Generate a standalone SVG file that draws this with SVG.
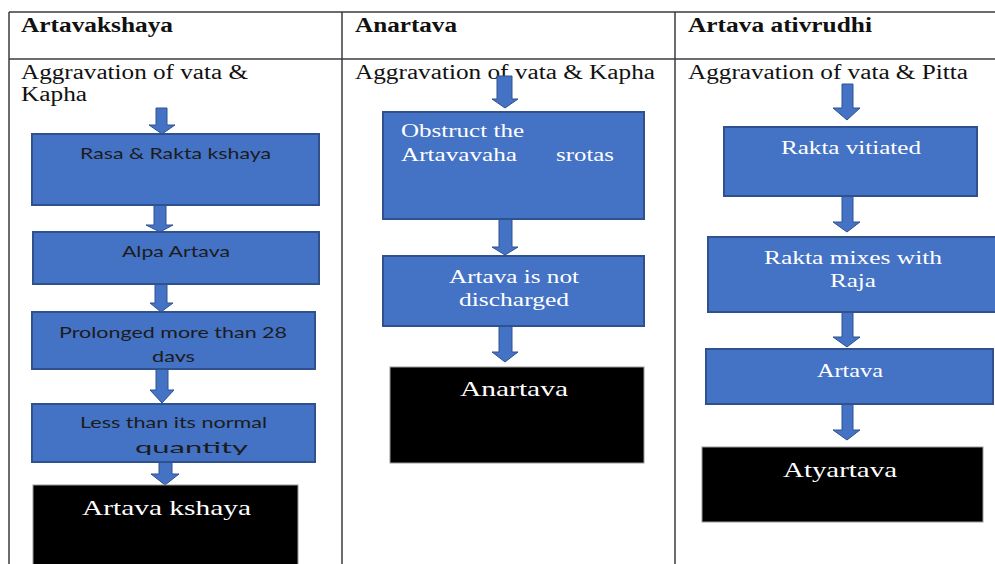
<svg xmlns="http://www.w3.org/2000/svg" width="995" height="564" viewBox="0 0 995 564">
<style>
.grid{stroke:#3a3a40;stroke-width:1.5;fill:none}
.hd{font-family:"Liberation Serif","Times New Roman",serif;font-weight:bold;font-size:20px;fill:#111}
.ag{font-family:"Liberation Serif","Times New Roman",serif;font-size:20px;fill:#111}
.bx{fill:#4472C4;stroke:#2F528F;stroke-width:2}
.bk{fill:#000;stroke:#999;stroke-width:1}
.ts{font-family:Lato,"Open Sans",sans-serif;font-size:16px;fill:#1c1c1c}
.tw{font-family:"Liberation Serif","Times New Roman",serif;font-size:18px;fill:#fff}
.tb{font-family:"Liberation Serif","Times New Roman",serif;font-size:22px;fill:#fff}
.ar{fill:#4472C4;stroke:#2F528F;stroke-width:1}
</style>
<defs>
<clipPath id="c3"><rect x="32" y="312" width="283" height="50"/></clipPath>
<clipPath id="c4"><rect x="32" y="404" width="283" height="51"/></clipPath>
</defs>
<rect width="995" height="564" fill="#fff"/>
<g id="table">
<line class="grid" x1="9" y1="12" x2="995" y2="12"/>
<line class="grid" x1="9" y1="59" x2="995" y2="59"/>
<line class="grid" x1="9" y1="12" x2="9" y2="564"/>
<line class="grid" x1="342" y1="12" x2="342" y2="564"/>
<line class="grid" x1="675" y1="12" x2="675" y2="564"/>
<text class="hd" x="21" y="32" textLength="152" lengthAdjust="spacingAndGlyphs">Artavakshaya</text>
<text class="hd" x="355" y="32" textLength="102" lengthAdjust="spacingAndGlyphs">Anartava</text>
<text class="hd" x="688" y="32" textLength="184" lengthAdjust="spacingAndGlyphs">Artava ativrudhi</text>
</g>
<g id="start1">
<text class="ag" x="21" y="79" textLength="227" lengthAdjust="spacingAndGlyphs">Aggravation of vata &amp;</text>
<text class="ag" x="21" y="101" textLength="66" lengthAdjust="spacingAndGlyphs">Kapha</text>
</g>
<g id="start2">
<text class="ag" x="355" y="79" textLength="300" lengthAdjust="spacingAndGlyphs">Aggravation of vata &amp; Kapha</text>
</g>
<g id="start3">
<text class="ag" x="688" y="79" textLength="280" lengthAdjust="spacingAndGlyphs">Aggravation of vata &amp; Pitta</text>
</g>
<g id="connectors">
<polygon class="ar" points="156,108 167,108 167,125 175,125 162,134 149,125 156,125"/>
<polygon class="ar" points="154,205 166,205 166,225 173,225 160,232 146,225 154,225"/>
<polygon class="ar" points="155,284 167,284 167,303 173,303 161,312 150,303 155,303"/>
<polygon class="ar" points="156,369 168,369 168,390 174,390 162,403 150,390 156,390"/>
<polygon class="ar" points="159,462 172,462 172,474 179,474 165,485 151,474 159,474"/>
<polygon class="ar" points="497,76 512,76 512,99 518,99 505,108 492,99 497,99"/>
<polygon class="ar" points="499,219 512,219 512,247 518,247 505,255 492,247 499,247"/>
<polygon class="ar" points="499,326 512,326 512,352 518,352 505,362 492,352 499,352"/>
<polygon class="ar" points="842,84 853,84 853,108 860,108 847,120 833,108 842,108"/>
<polygon class="ar" points="842,196 853,196 853,222 860,222 847,232 833,222 842,222"/>
<polygon class="ar" points="842,312 853,312 853,337 860,337 847,347 833,337 842,337"/>
<polygon class="ar" points="842,404 853,404 853,430 860,430 847,440 833,430 842,430"/>
</g>
<g id="n1a">
<rect class="bx" x="32" y="134" width="287" height="71"/>
<text class="ts" x="80" y="159" textLength="191" lengthAdjust="spacingAndGlyphs">Rasa &amp; Rakta kshaya</text>
</g>
<g id="n1b">
<rect class="bx" x="33" y="232" width="286" height="52"/>
<text class="ts" x="122" y="257" textLength="108" lengthAdjust="spacingAndGlyphs">Alpa Artava</text>
</g>
<g id="n1c">
<rect class="bx" x="32" y="312" width="283" height="57"/>
<g clip-path="url(#c3)">
<text class="ts" x="59" y="338" textLength="228" lengthAdjust="spacingAndGlyphs">Prolonged more than 28</text>
<text class="ts" x="152" y="362" textLength="43" lengthAdjust="spacingAndGlyphs">days</text>
</g>
</g>
<g id="n1d">
<rect class="bx" x="32" y="404" width="283" height="58"/>
<g clip-path="url(#c4)">
<text class="ts" x="80" y="428" textLength="187" lengthAdjust="spacingAndGlyphs">Less than its normal</text>
<text class="ts" x="135" y="453" textLength="113" lengthAdjust="spacingAndGlyphs">quantity</text>
</g>
</g>
<g id="n1e">
<rect class="bk" x="33" y="485" width="265" height="85"/>
<text class="tb" x="82" y="515" textLength="169" lengthAdjust="spacingAndGlyphs">Artava kshaya</text>
</g>
<g id="n2a">
<rect class="bx" x="383" y="112" width="261" height="107"/>
<text class="tw" x="401" y="137" textLength="123" lengthAdjust="spacingAndGlyphs">Obstruct the</text>
<text class="tw" x="401" y="161" textLength="116" lengthAdjust="spacingAndGlyphs">Artavavaha</text>
<text class="tw" x="556" y="161" textLength="58" lengthAdjust="spacingAndGlyphs">srotas</text>
</g>
<g id="n2b">
<rect class="bx" x="383" y="256" width="261" height="70"/>
<text class="tw" x="449" y="283" textLength="130" lengthAdjust="spacingAndGlyphs">Artava is not</text>
<text class="tw" x="459" y="306" textLength="110" lengthAdjust="spacingAndGlyphs">discharged</text>
</g>
<g id="n2c">
<rect class="bk" x="390" y="367" width="254" height="96"/>
<text class="tb" x="460" y="396" textLength="108" lengthAdjust="spacingAndGlyphs">Anartava</text>
</g>
<g id="n3a">
<rect class="bx" x="724" y="127" width="253" height="69"/>
<text class="tw" x="781" y="154" textLength="140" lengthAdjust="spacingAndGlyphs">Rakta vitiated</text>
</g>
<g id="n3b">
<rect class="bx" x="708" y="237" width="292" height="75"/>
<text class="tw" x="764" y="264" textLength="178" lengthAdjust="spacingAndGlyphs">Rakta mixes with</text>
<text class="tw" x="830" y="287" textLength="46" lengthAdjust="spacingAndGlyphs">Raja</text>
</g>
<g id="n3c">
<rect class="bx" x="706" y="349" width="287" height="55"/>
<text class="tw" x="817" y="377" textLength="66" lengthAdjust="spacingAndGlyphs">Artava</text>
</g>
<g id="n3d">
<rect class="bk" x="702" y="447" width="281" height="75"/>
<text class="tb" x="783" y="477" textLength="114" lengthAdjust="spacingAndGlyphs">Atyartava</text>
</g>
</svg>
